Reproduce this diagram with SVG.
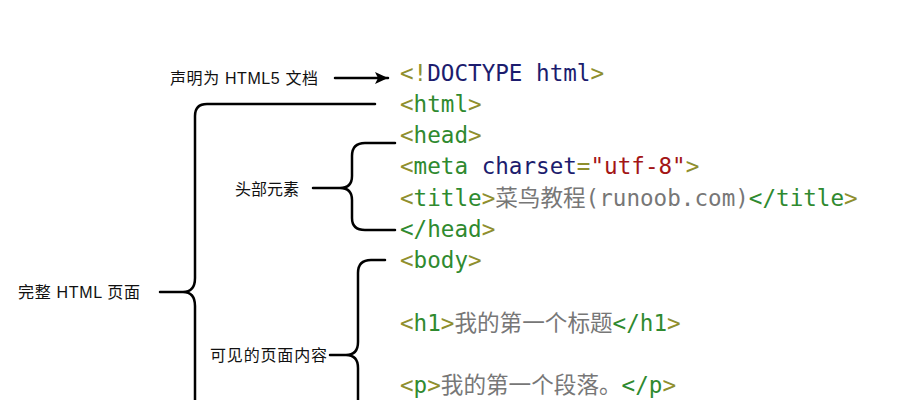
<svg xmlns="http://www.w3.org/2000/svg" width="911" height="400" viewBox="0 0 911 400">
<defs>
<marker id="ah" markerWidth="14" markerHeight="14" refX="13" refY="6" orient="auto" markerUnits="userSpaceOnUse"><path d="M0,0 L13,6 L0,12 L3,6 Z" fill="#000"/></marker>
</defs>
<style>
.code{font-family:"DejaVu Sans Mono","Noto Sans CJK SC",monospace;font-size:22.6px;fill:#777}
.b{fill:#8f8f2e}.t{fill:#2f8a2f}.n{fill:#1c1c6e}.s{fill:#a31515}
.lab{font-family:"Liberation Sans","Noto Sans CJK SC",sans-serif;font-size:16px;fill:#111}
.br{fill:none;stroke:#000;stroke-width:2.5;stroke-linecap:round}
</style>
<rect width="911" height="400" fill="#fff"/>
<g id="code">
<text class="code" x="400" y="81"><tspan class="b">&lt;!</tspan><tspan class="n">DOCTYPE html</tspan><tspan class="b">&gt;</tspan></text>
<text class="code" x="400" y="112"><tspan class="b">&lt;</tspan><tspan class="t">html</tspan><tspan class="b">&gt;</tspan></text>
<text class="code" x="400" y="143"><tspan class="b">&lt;</tspan><tspan class="t">head</tspan><tspan class="b">&gt;</tspan></text>
<text class="code" x="400" y="174"><tspan class="b">&lt;</tspan><tspan class="t">meta</tspan> <tspan class="n">charset</tspan><tspan class="b">=</tspan><tspan class="s">"utf-8"</tspan><tspan class="b">&gt;</tspan></text>
<text class="code" x="400" y="206"><tspan class="b">&lt;</tspan><tspan class="t">title</tspan><tspan class="b">&gt;</tspan>菜鸟教程(runoob.com)<tspan class="t">&lt;/title</tspan><tspan class="b">&gt;</tspan></text>
<text class="code" x="400" y="237"><tspan class="t">&lt;/head</tspan><tspan class="b">&gt;</tspan></text>
<text class="code" x="400" y="268"><tspan class="b">&lt;</tspan><tspan class="t">body</tspan><tspan class="b">&gt;</tspan></text>
<text class="code" x="400" y="331"><tspan class="b">&lt;</tspan><tspan class="t">h1</tspan><tspan class="b">&gt;</tspan>我的第一个标题<tspan class="t">&lt;/h1</tspan><tspan class="b">&gt;</tspan></text>
<text class="code" x="400" y="393"><tspan class="b">&lt;</tspan><tspan class="t">p</tspan><tspan class="b">&gt;</tspan>我的第一个段落。<tspan class="t">&lt;/p</tspan><tspan class="b">&gt;</tspan></text>
</g>
<g id="label-doctype"><text class="lab" x="170" y="84" textLength="148">声明为 HTML5 文档</text></g>
<g id="label-head"><text class="lab" x="235" y="195" font-size="15">头部元素</text></g>
<g id="label-page"><text class="lab" x="18" y="298" textLength="122">完整 HTML 页面</text></g>
<g id="label-body"><text class="lab" x="210" y="361" textLength="117">可见的页面内容</text></g>
<g id="connectors">
<line class="br" x1="335" y1="78" x2="388" y2="78" marker-end="url(#ah)"/>
<path class="br" d="M375,104 H207 Q195,104 195,116 V278 Q195,292 183,292 H160 M183,292 Q195,292 195,306 V410"/>
<path class="br" d="M395,143 H365 Q352,143 352,156 V176 Q352,188 340,188 H313 M340,188 Q352,188 352,200 V218 Q352,230 365,230 H395"/>
<path class="br" d="M385,260 H371 Q358,260 358,273 V342 Q358,355 346,355 H330 M346,355 Q358,355 358,368 V410"/>
</g>
</svg>
